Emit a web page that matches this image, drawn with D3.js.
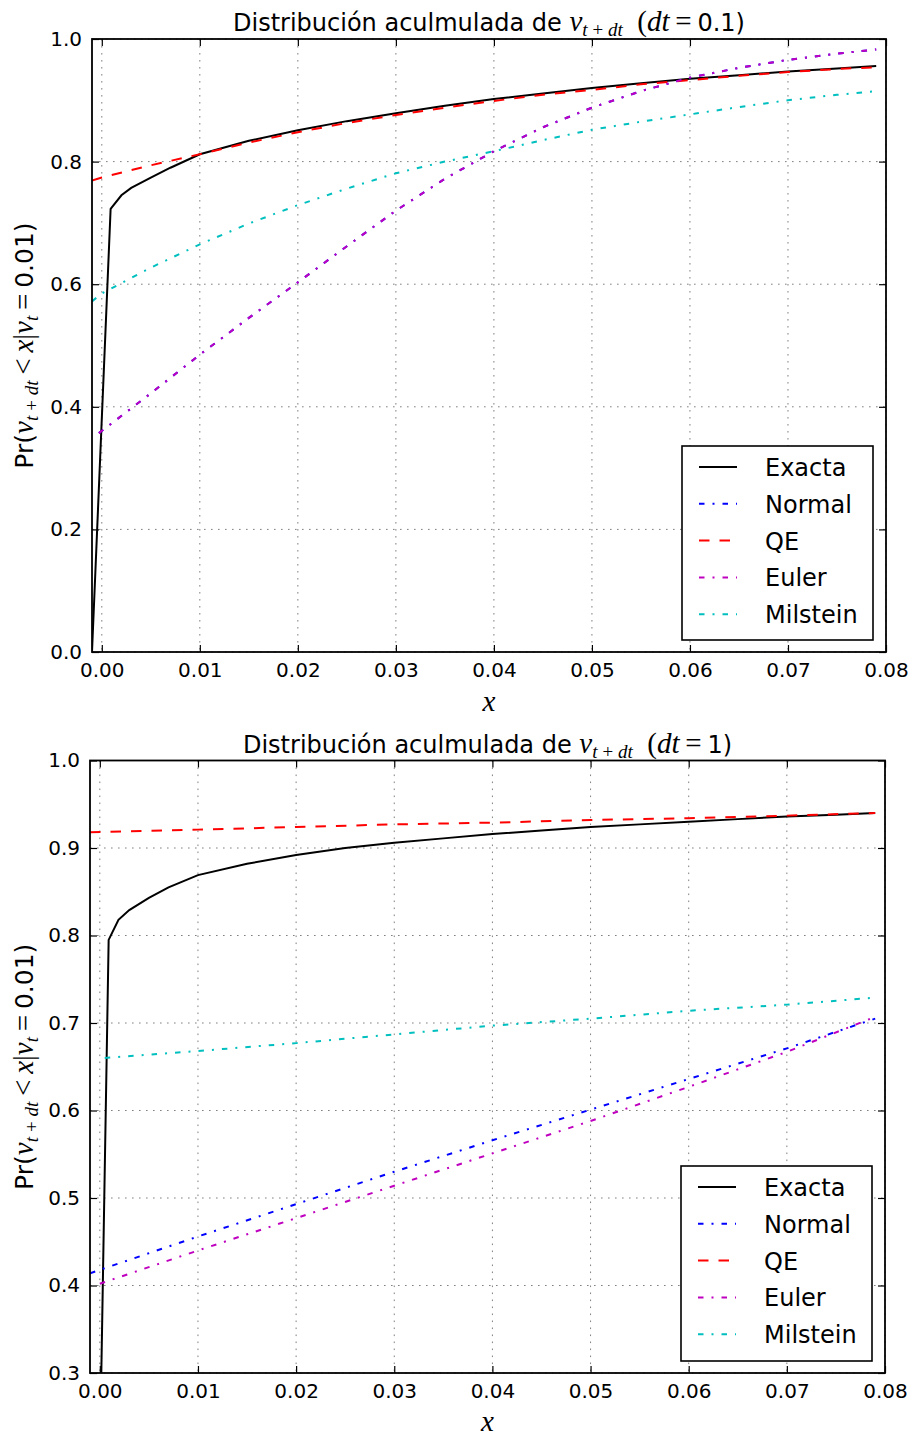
<!DOCTYPE html>
<html>
<head>
<meta charset="utf-8">
<script src="https://cdn.jsdelivr.net/npm/d3@7"></script>
<style>
  body { margin: 0; background: #fff; }
  svg { display: block; background: #fff; }
  .tick text { font-family: 'DejaVu Sans', sans-serif; font-size: 20px; fill: #000; }
  .tick line { stroke: #000; stroke-width: 1.2; }
  .sans { font-family: 'DejaVu Sans', sans-serif; }
  .math { font-family: 'Liberation Serif', 'DejaVu Serif', serif; }
</style>
</head>
<body>
<svg id="chart" width="912" height="1436"></svg>
<script>
// values, each point is [x, Pr]
const seriesNames = ['Exacta', 'Normal', 'QE', 'Euler', 'Milstein'];
const seriesColors = ['#000000', '#0000ff', '#ff0000', '#bf00bf', '#00bfbf'];
const seriesDash = [null, '5.5,8,2,8', '10.5,10', '5.5,8,2,8', '5.5,8,2,8'];

const xTicks = [0, 0.01, 0.02, 0.03, 0.04, 0.05, 0.06, 0.07, 0.08];
const yTicksTop = [0, 0.2, 0.4, 0.6, 0.8, 1.0];
const yTicksBottom = [0.3, 0.4, 0.5, 0.6, 0.7, 0.8, 0.9, 1.0];

// dt = 0.1
const exactaTop = [[-0.001, 0], [0.0009, 0.723], [0.002, 0.745], [0.003, 0.757], [0.005, 0.774],
  [0.007, 0.790], [0.01, 0.812], [0.015, 0.834], [0.02, 0.851], [0.025, 0.866], [0.03, 0.879],
  [0.035, 0.891], [0.04, 0.902], [0.045, 0.911], [0.05, 0.920], [0.055, 0.928], [0.06, 0.935],
  [0.065, 0.941], [0.07, 0.947], [0.075, 0.952], [0.079, 0.956]];
const normalTop = [[-0.0003, 0.357], [0.005, 0.422], [0.01, 0.485], [0.015, 0.545], [0.02, 0.603],
  [0.025, 0.662], [0.03, 0.720], [0.035, 0.772], [0.04, 0.817], [0.045, 0.856], [0.05, 0.888],
  [0.055, 0.915], [0.06, 0.937], [0.065, 0.953], [0.07, 0.966], [0.075, 0.976], [0.079, 0.983]];
const qeTop = [[-0.001, 0.769], [0, 0.774], [0.005, 0.794], [0.01, 0.812], [0.015, 0.831],
  [0.02, 0.848], [0.025, 0.863], [0.03, 0.876], [0.035, 0.888], [0.04, 0.899], [0.045, 0.909],
  [0.05, 0.917], [0.055, 0.926], [0.06, 0.933], [0.065, 0.940], [0.07, 0.946], [0.075, 0.951],
  [0.079, 0.954]];
const eulerTop = [[-0.0003, 0.357], [0.005, 0.422], [0.01, 0.485], [0.015, 0.545], [0.02, 0.603],
  [0.025, 0.662], [0.03, 0.720], [0.035, 0.772], [0.04, 0.817], [0.045, 0.856], [0.05, 0.888],
  [0.055, 0.915], [0.06, 0.937], [0.065, 0.953], [0.07, 0.966], [0.075, 0.976], [0.079, 0.983]];
const milsteinTop = [[-0.001, 0.572], [0, 0.585], [0.005, 0.627], [0.01, 0.665], [0.015, 0.699],
  [0.02, 0.729], [0.025, 0.756], [0.03, 0.781], [0.035, 0.800], [0.04, 0.817], [0.045, 0.835],
  [0.05, 0.852], [0.055, 0.865], [0.06, 0.877], [0.065, 0.889], [0.07, 0.900], [0.075, 0.909],
  [0.079, 0.915]];

// dt = 1
const exactaBottom = [[-0.0003, 0], [0.0009, 0.795], [0.0019, 0.818], [0.003, 0.829], [0.005, 0.843],
  [0.007, 0.855], [0.01, 0.869], [0.015, 0.882], [0.02, 0.892], [0.025, 0.900], [0.03, 0.906],
  [0.035, 0.911], [0.04, 0.916], [0.045, 0.920], [0.05, 0.924], [0.055, 0.927], [0.06, 0.930],
  [0.065, 0.933], [0.07, 0.936], [0.075, 0.938], [0.079, 0.940]];
const normalBottom = [[-0.001, 0.414], [0.01, 0.456], [0.02, 0.493], [0.03, 0.530], [0.04, 0.566],
  [0.05, 0.601], [0.06, 0.636], [0.07, 0.671], [0.079, 0.705]];
const qeBottom = [[-0.001, 0.918], [0.01, 0.921], [0.02, 0.924], [0.03, 0.927], [0.04, 0.929],
  [0.05, 0.932], [0.06, 0.934], [0.07, 0.937], [0.079, 0.940]];
const eulerBottom = [[0, 0.402], [0.01, 0.440], [0.02, 0.477], [0.03, 0.514], [0.04, 0.551],
  [0.05, 0.588], [0.06, 0.627], [0.07, 0.667], [0.079, 0.707]];
const milsteinBottom = [[0.0005, 0.660], [0.01, 0.668], [0.02, 0.677], [0.03, 0.687], [0.04, 0.697],
  [0.05, 0.705], [0.06, 0.714], [0.07, 0.721], [0.079, 0.729]];

const panels = [
  { dt: '0.1', top: 39, bottom: 652, left: 92, right: 886, yDomain: [0, 1], yTicks: yTicksTop,
    series: [exactaTop, normalTop, qeTop, eulerTop, milsteinTop],
    titleY: 31, xLabelY: 711, legend: { x: 682, y: 446, w: 191, h: 194 } },
  { dt: '1', top: 760.5, bottom: 1373, left: 90, right: 885, yDomain: [0.3, 1], yTicks: yTicksBottom,
    series: [exactaBottom, normalBottom, qeBottom, eulerBottom, milsteinBottom],
    titleY: 753, xLabelY: 1431, legend: { x: 681, y: 1166, w: 191, h: 195 } }
];

const svg = d3.select('#chart');

panels.forEach((p, pi) => {
  const x = d3.scaleLinear().domain([-0.001, 0.08]).range([p.left, p.right]);
  const y = d3.scaleLinear().domain(p.yDomain).range([p.bottom, p.top]);
  const g = svg.append('g');

  // dotted grid
  g.selectAll('.vgrid').data(xTicks).join('line')
    .attr('x1', d => x(d)).attr('x2', d => x(d))
    .attr('y1', p.top).attr('y2', p.bottom)
    .attr('stroke', '#808080').attr('stroke-width', 1).attr('stroke-dasharray', '1.6,5.4');
  g.selectAll('.hgrid').data(p.yTicks).join('line')
    .attr('x1', p.left).attr('x2', p.right)
    .attr('y1', d => y(d)).attr('y2', d => y(d))
    .attr('stroke', '#808080').attr('stroke-width', 1).attr('stroke-dasharray', '1.6,5.4');

  g.append('clipPath').attr('id', 'clip' + pi)
    .append('rect').attr('x', p.left).attr('y', p.top)
    .attr('width', p.right - p.left).attr('height', p.bottom - p.top);

  const line = d3.line().x(d => x(d[0])).y(d => y(d[1]));
  p.series.forEach((s, i) => {
    g.append('path').datum(s)
      .attr('clip-path', `url(#clip${pi})`)
      .attr('d', line)
      .attr('fill', 'none')
      .attr('stroke', seriesColors[i])
      .attr('stroke-width', 2)
      .attr('stroke-dasharray', seriesDash[i]);
  });

  // inward ticks on all four sides
  g.append('g').attr('transform', `translate(0,${p.bottom})`)
    .call(d3.axisBottom(x).tickValues(xTicks).tickFormat(d3.format('.2f'))
      .tickSizeInner(-7).tickSizeOuter(0).tickPadding(11))
    .call(a => a.select('.domain').remove());
  g.append('g').attr('transform', `translate(0,${p.top})`)
    .call(d3.axisTop(x).tickValues(xTicks).tickFormat('').tickSizeInner(-7).tickSizeOuter(0))
    .call(a => a.select('.domain').remove());
  g.append('g').attr('transform', `translate(${p.left},0)`)
    .call(d3.axisLeft(y).tickValues(p.yTicks).tickFormat(d3.format('.1f'))
      .tickSizeInner(-7).tickSizeOuter(0).tickPadding(10))
    .call(a => a.select('.domain').remove());
  g.append('g').attr('transform', `translate(${p.right},0)`)
    .call(d3.axisRight(y).tickValues(p.yTicks).tickFormat('').tickSizeInner(-7).tickSizeOuter(0))
    .call(a => a.select('.domain').remove());

  g.append('rect')
    .attr('x', p.left).attr('y', p.top)
    .attr('width', p.right - p.left).attr('height', p.bottom - p.top)
    .attr('fill', 'none').attr('stroke', '#000').attr('stroke-width', 1.8);

  // title
  const cx = (p.left + p.right) / 2;
  const title = g.append('text').attr('x', cx).attr('y', p.titleY)
    .attr('text-anchor', 'middle').attr('fill', '#000');
  title.append('tspan').attr('class', 'sans').attr('font-size', 24).text('Distribución aculmulada de ');
  title.append('tspan').attr('class', 'math').attr('font-style', 'italic').attr('font-size', 29).text('v');
  title.append('tspan').attr('class', 'math').attr('font-style', 'italic').attr('font-size', 19)
    .attr('dy', 5).text('t\u2009+\u2009dt');
  title.append('tspan').attr('class', 'math').attr('font-size', 29).attr('dy', -5).text('\u2002(');
  title.append('tspan').attr('class', 'math').attr('font-style', 'italic').attr('font-size', 29).text('dt');
  title.append('tspan').attr('class', 'math').attr('font-size', 29).text('\u2009=\u2009');
  title.append('tspan').attr('class', 'sans').attr('font-size', 24).text(p.dt + ')');

  // x label
  g.append('text').attr('class', 'math').attr('x', cx).attr('y', p.xLabelY)
    .attr('text-anchor', 'middle').attr('font-style', 'italic').attr('font-size', 29).text('x');

  // y label
  const ylab = g.append('text')
    .attr('transform', `translate(33,${(p.top + p.bottom) / 2}) rotate(-90)`)
    .attr('text-anchor', 'middle').attr('fill', '#000');
  ylab.append('tspan').attr('class', 'sans').attr('font-size', 25).text('Pr(');
  ylab.append('tspan').attr('class', 'math').attr('font-style', 'italic').attr('font-size', 29).text('v');
  ylab.append('tspan').attr('class', 'math').attr('font-style', 'italic').attr('font-size', 19)
    .attr('dy', 5).text('t\u2009+\u2009dt');
  ylab.append('tspan').attr('class', 'math').attr('font-size', 29).attr('dy', -5).text('\u2009<\u2009');
  ylab.append('tspan').attr('class', 'math').attr('font-style', 'italic').attr('font-size', 29).text('x');
  ylab.append('tspan').attr('class', 'math').attr('font-size', 29).text('|');
  ylab.append('tspan').attr('class', 'math').attr('font-style', 'italic').attr('font-size', 29).text('v');
  ylab.append('tspan').attr('class', 'math').attr('font-style', 'italic').attr('font-size', 19)
    .attr('dy', 5).text('t');
  ylab.append('tspan').attr('class', 'math').attr('font-size', 29).attr('dy', -5).text('\u2009=\u2009');
  ylab.append('tspan').attr('class', 'sans').attr('font-size', 25).text('0.01)');

  // legend
  const L = p.legend;
  const lg = g.append('g');
  lg.append('rect').attr('x', L.x).attr('y', L.y).attr('width', L.w).attr('height', L.h)
    .attr('fill', '#fff').attr('stroke', '#000').attr('stroke-width', 1.6);
  seriesNames.forEach((name, i) => {
    const cy = L.y + 21 + i * 36.8;
    lg.append('line').attr('x1', L.x + 17).attr('x2', L.x + 55)
      .attr('y1', cy).attr('y2', cy)
      .attr('stroke', seriesColors[i]).attr('stroke-width', 2)
      .attr('stroke-dasharray', seriesDash[i]);
    lg.append('text').attr('class', 'sans').attr('x', L.x + 83).attr('y', cy + 9)
      .attr('font-size', 24).attr('fill', '#000').text(name);
  });
});
</script>
</body>
</html>
